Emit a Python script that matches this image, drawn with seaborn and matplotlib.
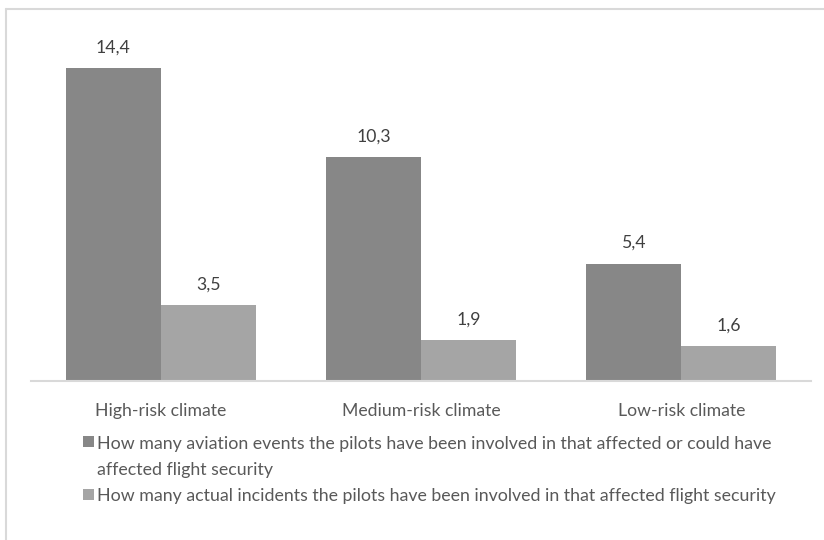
import matplotlib
matplotlib.use("Agg")
import matplotlib.pyplot as plt
import seaborn as sns
import pandas as pd
from matplotlib.patches import Rectangle
from matplotlib.lines import Line2D

categories = ["High-risk climate", "Medium-risk climate", "Low-risk climate"]
series_names = [
    "How many aviation events the pilots have been involved in that affected or could have affected flight security",
    "How many actual incidents the pilots have been involved in that affected flight security",
]
legend_lines = [
    "How many aviation events the pilots have been involved in that affected or could have",
    "affected flight security",
    "How many actual incidents the pilots have been involved in that affected flight security",
]
events = [14.4, 10.3, 5.4]
incidents = [3.5, 1.9, 1.6]
colors = ["#878787", "#a5a5a5"]

sns.set_theme(style="white")
plt.rcParams["font.family"] = ["Lato", "DejaVu Sans"]

df = pd.DataFrame({
    "category": categories * 2,
    "series": [series_names[0]] * 3 + [series_names[1]] * 3,
    "value": events + incidents,
})

W, H = 824, 540
fig = plt.figure(figsize=(W / 100, H / 100), dpi=100)
fig.patch.set_facecolor("white")
fig.canvas.draw()
r = fig.canvas.get_renderer()


def fit(text, target):
    p = fig.text(0, 0, text, fontsize=12)
    w = p.get_window_extent(r).width
    p.remove()
    return 12 * target / w


fs_leg = fit(legend_lines[2], 675)
fs_tick = fit(categories[1], 158)

ax_left, ax_right = 30.5, 811.5
base_y, ppu, ymax = 381, 21.74, 16
ax = fig.add_axes([ax_left / W, (H - base_y) / H, (ax_right - ax_left) / W, ymax * ppu / H])
sns.barplot(data=df, x="category", y="value", hue="series", order=categories,
            hue_order=series_names, palette=colors, width=0.73, gap=0,
            saturation=1, legend=False, linewidth=0, ax=ax)
ax.set_xlim(-0.5, 2.5)
ax.set_ylim(0, ymax)
ax.set_xlabel("")
ax.set_ylabel("")
ax.set_yticks([])
for s in ["top", "left", "right"]:
    ax.spines[s].set_visible(False)
ax.spines["bottom"].set_color("#d9d9d9")
ax.spines["bottom"].set_linewidth(1.5)
ax.tick_params(axis="x", length=0, pad=16, labelsize=fs_tick, labelcolor="#595959")

for cont in ax.containers:
    labels = [f"{v:.1f}".replace(".", ",") for v in cont.datavalues]
    ax.bar_label(cont, labels=labels, padding=9, fontsize=fs_tick, color="#404040")

# legend (manual)
line_ys = [442, 468, 495]
for txt, y in zip(legend_lines, line_ys):
    fig.text(97 / W, (H - y) / H, txt, fontsize=fs_leg, color="#595959",
             va="center_baseline", ha="left")
for i, y in enumerate([line_ys[0], line_ys[2]]):
    fig.patches.append(Rectangle((83 / W, (H - y - 5) / H), 11 / W, 11 / H,
                                 transform=fig.transFigure, facecolor=colors[i],
                                 edgecolor="none"))

# outer frame
fig.add_artist(Line2D([6 / W, 6 / W], [0, (H - 9) / H], color="#d9d9d9", lw=1.5, transform=fig.transFigure))
fig.add_artist(Line2D([6 / W, 1], [(H - 9) / H, (H - 9) / H], color="#d9d9d9", lw=1.5, transform=fig.transFigure))

fig.savefig("out.png", dpi=100, facecolor="white")
